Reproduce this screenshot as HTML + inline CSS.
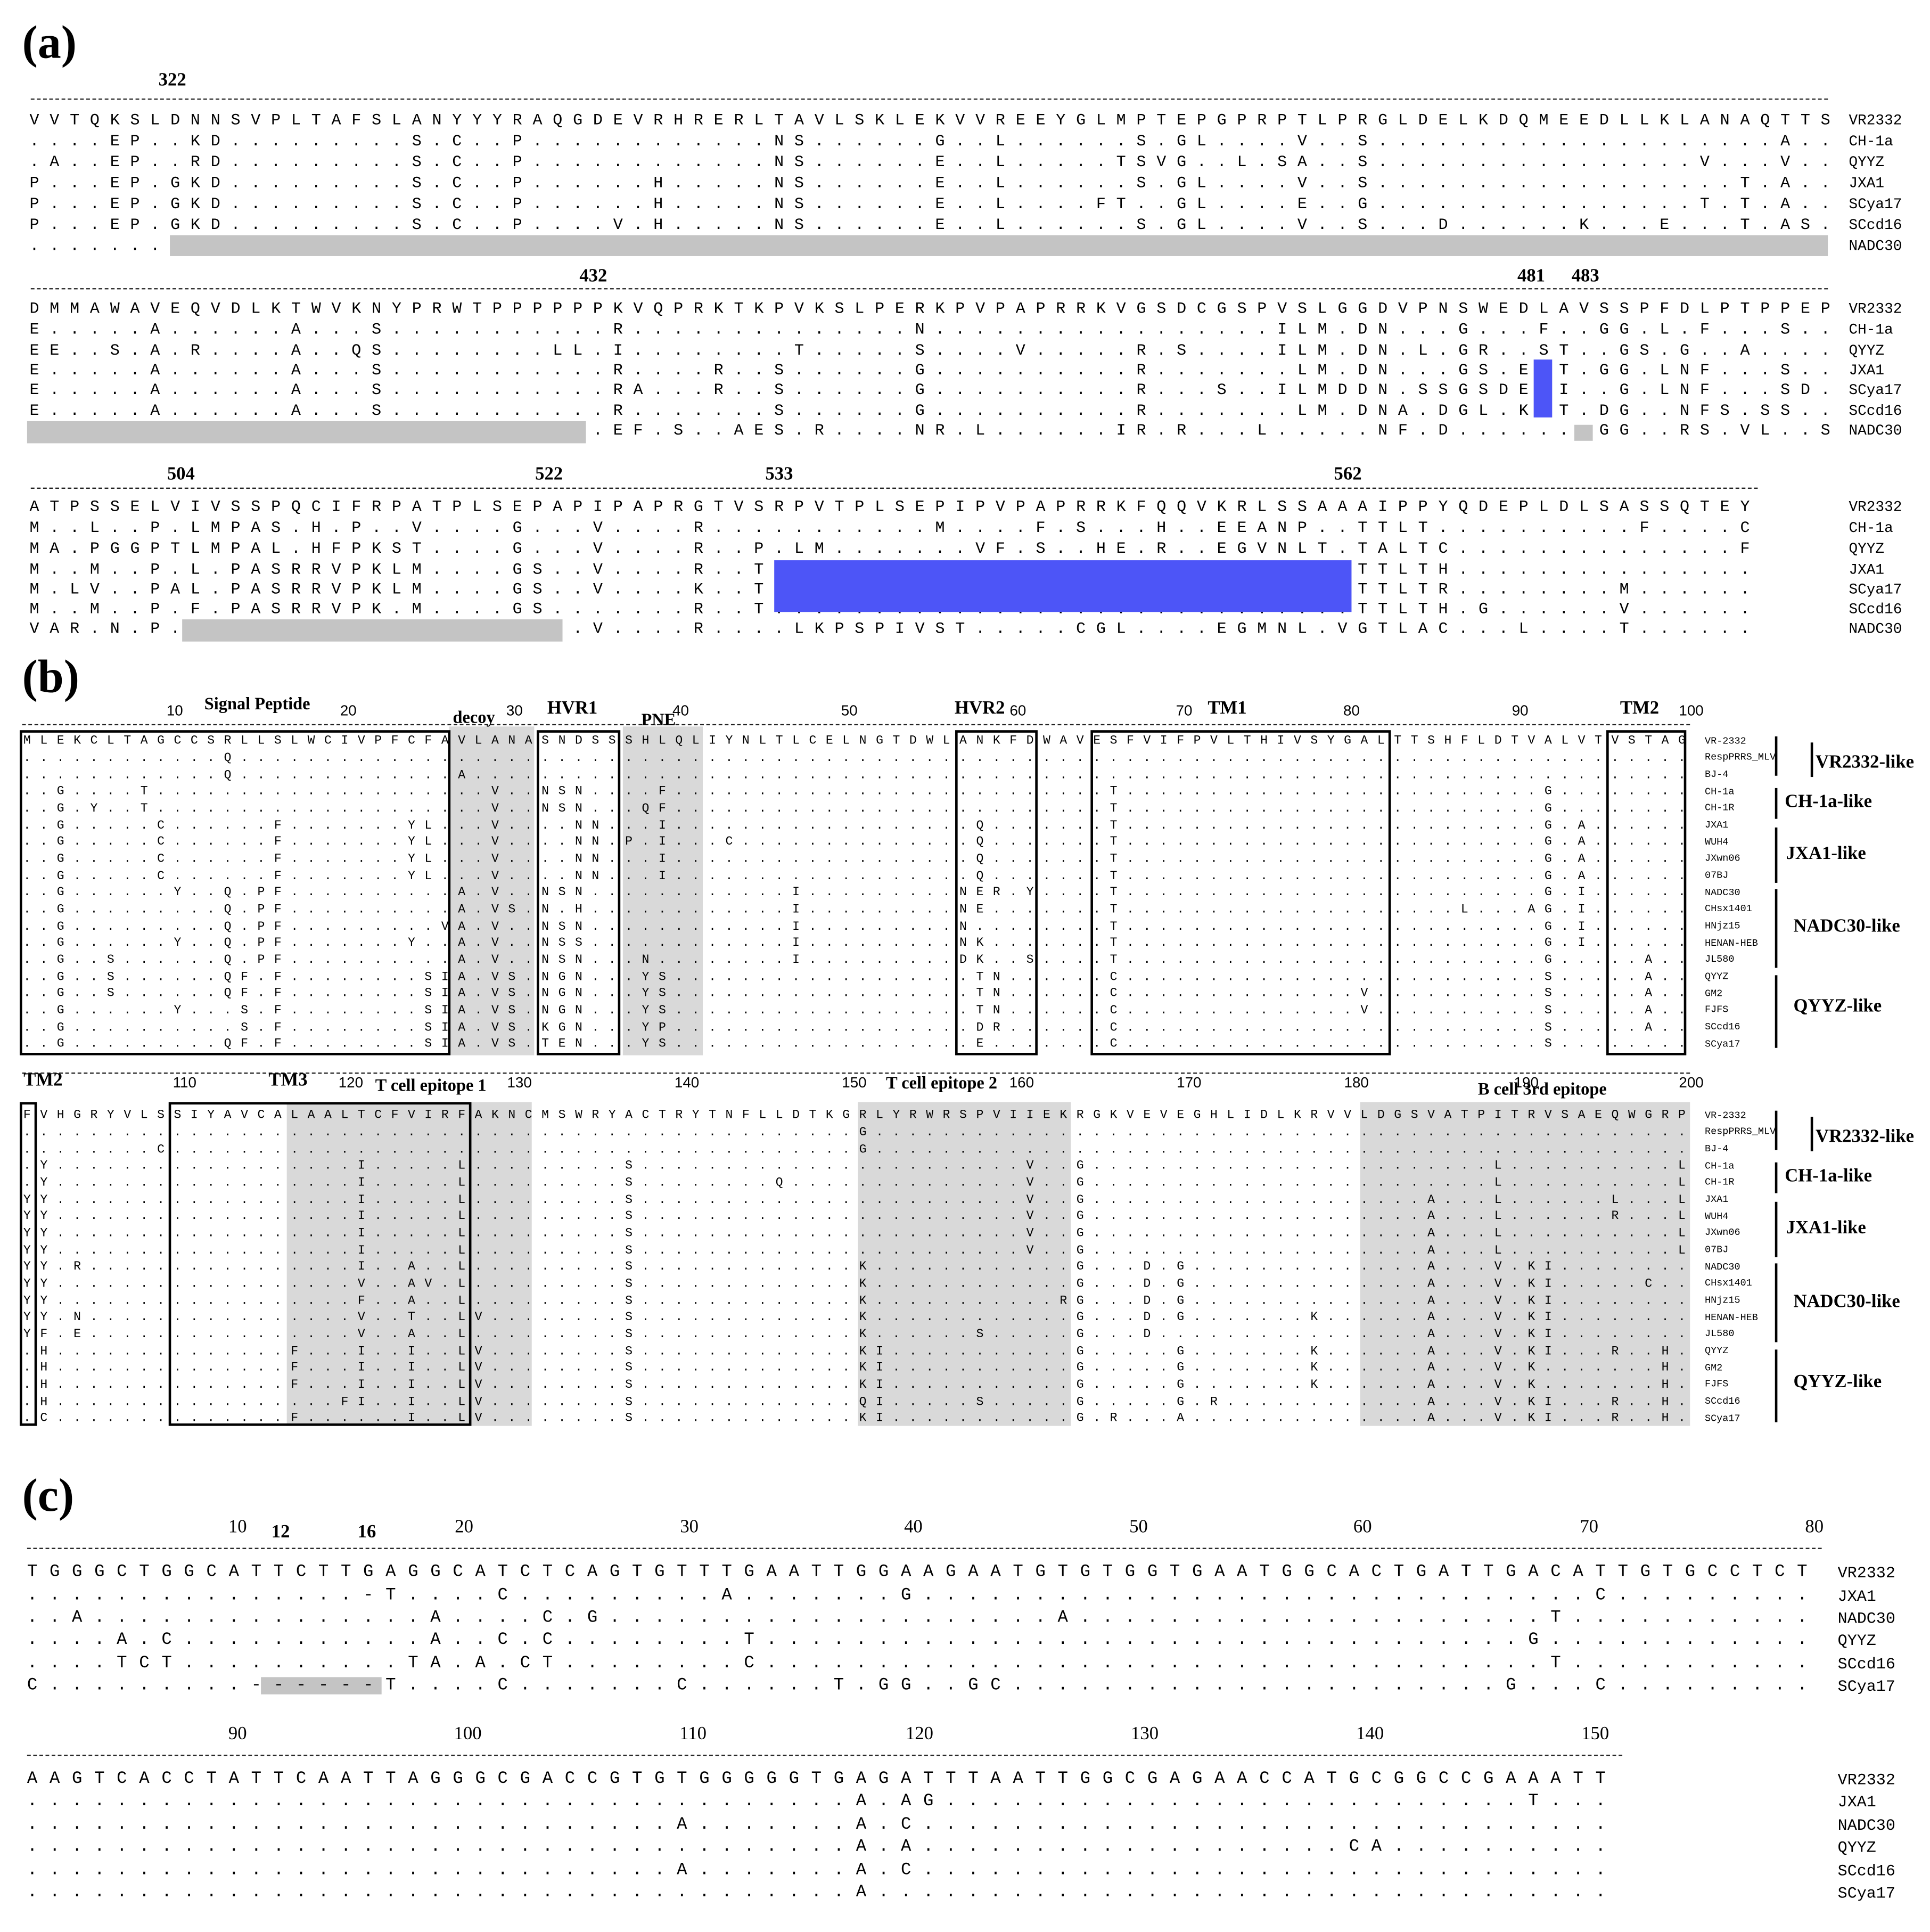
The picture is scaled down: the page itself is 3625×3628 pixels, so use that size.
<!DOCTYPE html>
<html><head><meta charset="utf-8"><style>
html,body{margin:0;padding:0;background:#fff}
body{width:3625px;height:3628px;overflow:hidden;position:relative}
#w{position:absolute;left:0;top:0;width:1568px;height:1569px;transform:scale(2.3119,2.3123);transform-origin:0 0}
.r{position:absolute;white-space:pre;font-family:"Liberation Mono",monospace;line-height:1;color:#000}
.r i{display:inline-block;font-style:normal;overflow:visible;vertical-align:top}
.a{font-size:13px;letter-spacing:8.55px}
.a i{width:163.5px}
.b{font-size:10px;letter-spacing:7.58px}
.b i{width:135.8px}
.c{font-size:14px;letter-spacing:9.8px}
.lab{position:absolute;white-space:pre;font-family:"Liberation Mono",monospace;line-height:1}
.la{font-size:12px}
.lb{font-size:8px}
.lc{font-size:13px}
.n{position:absolute;transform:translate(-50%,-50%);font:bold 15px "Liberation Serif",serif;white-space:pre}
.t{position:absolute;transform:translate(-50%,-50%);font:12px "Liberation Sans",sans-serif;white-space:pre}
.sec{position:absolute;font:bold 38px "Liberation Serif",serif;line-height:1}
.rul{position:absolute;height:0;border-top:1px dashed #222}
.g{position:absolute;background:#c4c4c4}
.gs{position:absolute;background:#d9d9d9}
.bl{position:absolute;background:#4d55f7}
.bx{position:absolute;border:2px solid #000;box-sizing:border-box}
.vl{position:absolute;width:2px;background:#000}
.gl{position:absolute;font:bold 15px "Liberation Serif",serif;transform:translateY(-50%);white-space:pre}
</style></head><body><div id="w">

<!-- (a) -->
<div class="sec" style="left:18px;top:16px">(a)</div>
<div class="rul" style="left:25px;top:80px;width:1460px"></div>
<div class="n" style="left:140px;top:66px">322</div>
<div class="r a" style="left:24px;top:91px"><i>VVTQKSLDNN</i><i>SVPLTAFSLA</i><i>NYYYRAQGDE</i><i>VRHRERLTAV</i><i>LSKLEKVVRE</i><i>EYGLMPTEPG</i><i>PRPTLPRGLD</i><i>ELKDQMEEDL</i><i>LKLANAQTTS</i></div>
<div class="r a" style="left:24px;top:108px"><i>....EP..KD</i><i>.........S</i><i>.C..P.....</i><i>.......NS.</i><i>.....G..L.</i><i>.....S.GL.</i><i>...V..S...</i><i>..........</i><i>.......A..</i></div>
<div class="r a" style="left:24px;top:125px"><i>.A..EP..RD</i><i>.........S</i><i>.C..P.....</i><i>.......NS.</i><i>.....E..L.</i><i>....TSVG..</i><i>L.SA..S...</i><i>..........</i><i>...V...V..</i></div>
<div class="r a" style="left:24px;top:142px"><i>P...EP.GKD</i><i>.........S</i><i>.C..P.....</i><i>.H.....NS.</i><i>.....E..L.</i><i>.....S.GL.</i><i>...V..S...</i><i>..........</i><i>.....T.A..</i></div>
<div class="r a" style="left:24px;top:159px"><i>P...EP.GKD</i><i>.........S</i><i>.C..P.....</i><i>.H.....NS.</i><i>.....E..L.</i><i>...FT..GL.</i><i>...E..G...</i><i>..........</i><i>...T.T.A..</i></div>
<div class="r a" style="left:24px;top:176px"><i>P...EP.GKD</i><i>.........S</i><i>.C..P....V</i><i>.H.....NS.</i><i>.....E..L.</i><i>.....S.GL.</i><i>...V..S...</i><i>D......K..</i><i>.E...T.AS.</i></div>
<div class="r a" style="left:24px;top:193px"><i>.......</i></div>
<div class="g" style="left:138px;top:191px;width:1347px;height:17px"></div>
<div class="lab la" style="left:1502px;top:92px">VR2332</div>
<div class="lab la" style="left:1502px;top:109px">CH-1a</div>
<div class="lab la" style="left:1502px;top:126px">QYYZ</div>
<div class="lab la" style="left:1502px;top:143px">JXA1</div>
<div class="lab la" style="left:1502px;top:160px">SCya17</div>
<div class="lab la" style="left:1502px;top:177px">SCcd16</div>
<div class="lab la" style="left:1502px;top:194px">NADC30</div>

<div class="rul" style="left:25px;top:234px;width:1460px"></div>
<div class="n" style="left:482px;top:225px">432</div>
<div class="n" style="left:1244px;top:225px">481</div>
<div class="n" style="left:1288px;top:225px">483</div>
<div class="r a" style="left:24px;top:244px"><i>DMMAWAVEQV</i><i>DLKTWVKNYP</i><i>RWTPPPPPPK</i><i>VQPRKTKPVK</i><i>SLPERKPVPA</i><i>PRRKVGSDCG</i><i>SPVSLGGDVP</i><i>NSWEDLAVSS</i><i>PFDLPTPPEP</i></div>
<div class="r a" style="left:24px;top:261px"><i>E.....A...</i><i>...A...S..</i><i>.........R</i><i>..........</i><i>....N.....</i><i>..........</i><i>..ILM.DN..</i><i>.G...F..GG</i><i>.L.F...S..</i></div>
<div class="r a" style="left:24px;top:278px"><i>EE..S.A.R.</i><i>...A..QS..</i><i>......LL.I</i><i>........T.</i><i>....S....V</i><i>.....R.S..</i><i>..ILM.DN.L</i><i>.GR..ST..G</i><i>S.G..A....</i></div>
<div class="r a" style="left:24px;top:294px"><i>E.....A...</i><i>...A...S..</i><i>.........R</i><i>....R..S..</i><i>....G.....</i><i>.....R....</i><i>...LM.DN..</i><i>.GS.E.T.GG</i><i>.LNF...S..</i></div>
<div class="r a" style="left:24px;top:310px"><i>E.....A...</i><i>...A...S..</i><i>.........R</i><i>A...R..S..</i><i>....G.....</i><i>.....R...S</i><i>..ILMDDN.S</i><i>SGSDE.I..G</i><i>.LNF...SD.</i></div>
<div class="r a" style="left:24px;top:327px"><i>E.....A...</i><i>...A...S..</i><i>.........R</i><i>.......S..</i><i>....G.....</i><i>.....R....</i><i>...LM.DNA.</i><i>DGL.K.T.DG</i><i>..NFS.SS..</i></div>
<div class="r a" style="left:24px;top:343px"><i>..........</i><i>..........</i><i>.........E</i><i>F.S..AES.R</i><i>....NR.L..</i><i>....IR.R..</i><i>.L.....NF.</i><i>D.......GG</i><i>..RS.VL..S</i></div>
<div class="g" style="left:22px;top:342px;width:454px;height:18px"></div>
<div class="g" style="left:1279px;top:345px;width:15px;height:13px"></div>
<div class="bl" style="left:1246px;top:292px;width:15px;height:47px"></div>
<div class="lab la" style="left:1502px;top:245px">VR2332</div>
<div class="lab la" style="left:1502px;top:262px">CH-1a</div>
<div class="lab la" style="left:1502px;top:279px">QYYZ</div>
<div class="lab la" style="left:1502px;top:295px">JXA1</div>
<div class="lab la" style="left:1502px;top:311px">SCya17</div>
<div class="lab la" style="left:1502px;top:328px">SCcd16</div>
<div class="lab la" style="left:1502px;top:344px">NADC30</div>

<div class="rul" style="left:25px;top:396px;width:1403px"></div>
<div class="n" style="left:147px;top:386px">504</div>
<div class="n" style="left:446px;top:386px">522</div>
<div class="n" style="left:633px;top:386px">533</div>
<div class="n" style="left:1095px;top:386px">562</div>
<div class="r a" style="left:24px;top:405px"><i>ATPSSELVIV</i><i>SSPQCIFRPA</i><i>TPLSEPAPIP</i><i>APRGTVSRPV</i><i>TPLSEPIPVP</i><i>APRRKFQQVK</i><i>RLSSAAAIPP</i><i>YQDEPLDLSA</i><i>SSQTEY</i></div>
<div class="r a" style="left:24px;top:422px"><i>M..L..P.LM</i><i>PAS.H.P..V</i><i>....G...V.</i><i>...R......</i><i>.....M....</i><i>F.S...H..E</i><i>EANP..TTLT</i><i>..........</i><i>F....C</i></div>
<div class="r a" style="left:24px;top:439px"><i>MA.PGGPTLM</i><i>PAL.HFPKST</i><i>....G...V.</i><i>...R..P.LM</i><i>.......VF.</i><i>S..HE.R..E</i><i>GVNLT.TALT</i><i>C.........</i><i>.....F</i></div>
<div class="r a" style="left:24px;top:456px"><i>M..M..P.L.</i><i>PASRRVPKLM</i><i>....GS..V.</i><i>...R..T...</i><i>..........</i><i>..........</i><i>......TTLT</i><i>H.........</i><i>......</i></div>
<div class="r a" style="left:24px;top:472px"><i>M.LV..PAL.</i><i>PASRRVPKLM</i><i>....GS..V.</i><i>...K..T...</i><i>..........</i><i>..........</i><i>......TTLT</i><i>R........M</i><i>......</i></div>
<div class="r a" style="left:24px;top:488px"><i>M..M..P.F.</i><i>PASRRVPK.M</i><i>....GS....</i><i>...R..T...</i><i>..........</i><i>..........</i><i>......TTLT</i><i>H.G......V</i><i>......</i></div>
<div class="r a" style="left:24px;top:504px"><i>VAR.N.P...</i><i>..........</i><i>........V.</i><i>...R....LK</i><i>PSPIVST...</i><i>..CGL....E</i><i>GMNL.VGTLA</i><i>C...L....T</i><i>......</i></div>
<div class="g" style="left:148px;top:503px;width:309px;height:18px"></div>
<div class="bl" style="left:629px;top:455px;width:469px;height:42px"></div>
<div class="lab la" style="left:1502px;top:406px">VR2332</div>
<div class="lab la" style="left:1502px;top:423px">CH-1a</div>
<div class="lab la" style="left:1502px;top:440px">QYYZ</div>
<div class="lab la" style="left:1502px;top:457px">JXA1</div>
<div class="lab la" style="left:1502px;top:473px">SCya17</div>
<div class="lab la" style="left:1502px;top:489px">SCcd16</div>
<div class="lab la" style="left:1502px;top:505px">NADC30</div>

<!-- (b) -->
<div class="sec" style="left:18px;top:531px">(b)</div>
<div class="gs" style="left:365px;top:590px;width:69px;height:267px"></div>
<div class="gs" style="left:506px;top:590px;width:65px;height:267px"></div>
<div class="rul" style="left:18px;top:588px;width:1355px"></div>
<div class="t" style="left:142px;top:577px">10</div><div class="t" style="left:283px;top:577px">20</div><div class="t" style="left:418px;top:577px">30</div><div class="t" style="left:553px;top:577px">40</div><div class="t" style="left:690px;top:577px">50</div><div class="t" style="left:827px;top:577px">60</div><div class="t" style="left:962px;top:577px">70</div><div class="t" style="left:1098px;top:577px">80</div><div class="t" style="left:1235px;top:577px">90</div><div class="t" style="left:1374px;top:577px">100</div>
<div class="n" style="left:209px;top:573px;font-size:14px">Signal Peptide</div>
<div class="n" style="left:385px;top:584px;font-size:14px">decoy</div>
<div class="n" style="left:465px;top:576px">HVR1</div>
<div class="n" style="left:535px;top:586px;font-size:14px">PNE</div>
<div class="n" style="left:796px;top:576px">HVR2</div>
<div class="n" style="left:997px;top:576px">TM1</div>
<div class="n" style="left:1332px;top:576px">TM2</div>

<div class="r b" style="left:19px;top:598px"><i>MLEKCLTAGC</i><i>CSRLLSLWCI</i><i>VPFCFAVLAN</i><i>ASNDSSSHLQ</i><i>LIYNLTLCEL</i><i>NGTDWLANKF</i><i>DWAVESFVIF</i><i>PVLTHIVSYG</i><i>ALTTSHFLDT</i><i>VALVTVSTAG</i></div>
<div class="r b" style="left:19px;top:612px"><i>..........</i><i>..Q.......</i><i>..........</i><i>..........</i><i>..........</i><i>..........</i><i>..........</i><i>..........</i><i>..........</i><i>..........</i></div>
<div class="r b" style="left:19px;top:626px"><i>..........</i><i>..Q.......</i><i>......A...</i><i>..........</i><i>..........</i><i>..........</i><i>..........</i><i>..........</i><i>..........</i><i>..........</i></div>
<div class="r b" style="left:19px;top:639px"><i>..G....T..</i><i>..........</i><i>........V.</i><i>.NSN....F.</i><i>..........</i><i>..........</i><i>.....T....</i><i>..........</i><i>..........</i><i>.G........</i></div>
<div class="r b" style="left:19px;top:653px"><i>..G.Y..T..</i><i>..........</i><i>........V.</i><i>.NSN...QF.</i><i>..........</i><i>..........</i><i>.....T....</i><i>..........</i><i>..........</i><i>.G........</i></div>
<div class="r b" style="left:19px;top:667px"><i>..G.....C.</i><i>.....F....</i><i>...YL...V.</i><i>...NN...I.</i><i>..........</i><i>.......Q..</i><i>.....T....</i><i>..........</i><i>..........</i><i>.G.A......</i></div>
<div class="r b" style="left:19px;top:680px"><i>..G.....C.</i><i>.....F....</i><i>...YL...V.</i><i>...NN.P.I.</i><i>..C.......</i><i>.......Q..</i><i>.....T....</i><i>..........</i><i>..........</i><i>.G.A......</i></div>
<div class="r b" style="left:19px;top:694px"><i>..G.....C.</i><i>.....F....</i><i>...YL...V.</i><i>...NN...I.</i><i>..........</i><i>.......Q..</i><i>.....T....</i><i>..........</i><i>..........</i><i>.G.A......</i></div>
<div class="r b" style="left:19px;top:708px"><i>..G.....C.</i><i>.....F....</i><i>...YL...V.</i><i>...NN...I.</i><i>..........</i><i>.......Q..</i><i>.....T....</i><i>..........</i><i>..........</i><i>.G.A......</i></div>
<div class="r b" style="left:19px;top:721px"><i>..G......Y</i><i>..Q.PF....</i><i>......A.V.</i><i>.NSN......</i><i>......I...</i><i>......NER.</i><i>Y....T....</i><i>..........</i><i>..........</i><i>.G.I......</i></div>
<div class="r b" style="left:19px;top:735px"><i>..G.......</i><i>..Q.PF....</i><i>......A.VS</i><i>.N.H......</i><i>......I...</i><i>......NE..</i><i>.....T....</i><i>..........</i><i>......L...</i><i>AG.I......</i></div>
<div class="r b" style="left:19px;top:749px"><i>..G.......</i><i>..Q.PF....</i><i>.....VA.V.</i><i>.NSN......</i><i>......I...</i><i>......N...</i><i>.....T....</i><i>..........</i><i>..........</i><i>.G.I......</i></div>
<div class="r b" style="left:19px;top:762px"><i>..G......Y</i><i>..Q.PF....</i><i>...Y..A.V.</i><i>.NSS......</i><i>......I...</i><i>......NK..</i><i>.....T....</i><i>..........</i><i>..........</i><i>.G.I......</i></div>
<div class="r b" style="left:19px;top:776px"><i>..G..S....</i><i>..Q.PF....</i><i>......A.V.</i><i>.NSN...N..</i><i>......I...</i><i>......DK..</i><i>S....T....</i><i>..........</i><i>..........</i><i>.G.....A..</i></div>
<div class="r b" style="left:19px;top:790px"><i>..G..S....</i><i>..QF.F....</i><i>....SIA.VS</i><i>.NGN...YS.</i><i>..........</i><i>.......TN.</i><i>.....C....</i><i>..........</i><i>..........</i><i>.S.....A..</i></div>
<div class="r b" style="left:19px;top:803px"><i>..G..S....</i><i>..QF.F....</i><i>....SIA.VS</i><i>.NGN...YS.</i><i>..........</i><i>.......TN.</i><i>.....C....</i><i>..........</i><i>V.........</i><i>.S.....A..</i></div>
<div class="r b" style="left:19px;top:817px"><i>..G......Y</i><i>...S.F....</i><i>....SIA.VS</i><i>.NGN...YS.</i><i>..........</i><i>.......TN.</i><i>.....C....</i><i>..........</i><i>V.........</i><i>.S.....A..</i></div>
<div class="r b" style="left:19px;top:831px"><i>..G.......</i><i>...S.F....</i><i>....SIA.VS</i><i>.KGN...YP.</i><i>..........</i><i>.......DR.</i><i>.....C....</i><i>..........</i><i>..........</i><i>.S.....A..</i></div>
<div class="r b" style="left:19px;top:844px"><i>..G.......</i><i>..QF.F....</i><i>....SIA.VS</i><i>.TEN...YS.</i><i>..........</i><i>.......E..</i><i>.....C....</i><i>..........</i><i>..........</i><i>.S........</i></div>
<div class="bx" style="left:16px;top:593px;width:350px;height:264px"></div>
<div class="bx" style="left:436px;top:593px;width:68px;height:264px"></div>
<div class="bx" style="left:776px;top:593px;width:67px;height:264px"></div>
<div class="bx" style="left:886px;top:593px;width:244px;height:264px"></div>
<div class="bx" style="left:1305px;top:593px;width:65px;height:264px"></div>

<div class="lab lb" style="left:1385px;top:599px">VR-2332</div>
<div class="lab lb" style="left:1385px;top:612px">RespPRRS_MLV</div>
<div class="lab lb" style="left:1385px;top:626px">BJ-4</div>
<div class="lab lb" style="left:1385px;top:640px">CH-1a</div>
<div class="lab lb" style="left:1385px;top:653px">CH-1R</div>
<div class="lab lb" style="left:1385px;top:667px">JXA1</div>
<div class="lab lb" style="left:1385px;top:681px">WUH4</div>
<div class="lab lb" style="left:1385px;top:694px">JXwn06</div>
<div class="lab lb" style="left:1385px;top:708px">07BJ</div>
<div class="lab lb" style="left:1385px;top:722px">NADC30</div>
<div class="lab lb" style="left:1385px;top:735px">CHsx1401</div>
<div class="lab lb" style="left:1385px;top:749px">HNjz15</div>
<div class="lab lb" style="left:1385px;top:763px">HENAN-HEB</div>
<div class="lab lb" style="left:1385px;top:776px">JL580</div>
<div class="lab lb" style="left:1385px;top:790px">QYYZ</div>
<div class="lab lb" style="left:1385px;top:804px">GM2</div>
<div class="lab lb" style="left:1385px;top:817px">FJFS</div>
<div class="lab lb" style="left:1385px;top:831px">SCcd16</div>
<div class="lab lb" style="left:1385px;top:845px">SCya17</div>
<div class="vl" style="left:1442px;top:598px;height:32px"></div><div class="vl" style="left:1471px;top:603px;height:28px"></div>
<div class="vl" style="left:1442px;top:640px;height:25px"></div>
<div class="vl" style="left:1442px;top:672px;height:45px"></div>
<div class="vl" style="left:1442px;top:722px;height:64px"></div>
<div class="vl" style="left:1442px;top:792px;height:59px"></div>
<div class="gl" style="left:1475px;top:620px">VR2332-like</div>
<div class="gl" style="left:1450px;top:652px">CH-1a-like</div>
<div class="gl" style="left:1451px;top:694px">JXA1-like</div>
<div class="gl" style="left:1457px;top:753px">NADC30-like</div>
<div class="gl" style="left:1457px;top:818px">QYYZ-like</div>

<!-- (b) lower -->
<div class="gs" style="left:233px;top:895px;width:199px;height:263px"></div>
<div class="gs" style="left:697px;top:895px;width:173px;height:263px"></div>
<div class="gs" style="left:1105px;top:895px;width:268px;height:263px"></div>
<div class="rul" style="left:18px;top:871px;width:1355px"></div>
<div class="n" style="left:35px;top:878px">TM2</div>
<div class="t" style="left:150px;top:879px">110</div>
<div class="n" style="left:234px;top:878px">TM3</div>
<div class="t" style="left:285px;top:879px">120</div>
<div class="n" style="left:350px;top:883px;font-size:14px">T cell epitope 1</div>
<div class="t" style="left:422px;top:879px">130</div>
<div class="t" style="left:558px;top:879px">140</div>
<div class="t" style="left:694px;top:879px">150</div>
<div class="n" style="left:765px;top:881px;font-size:14px">T cell epitope 2</div>
<div class="t" style="left:830px;top:879px">160</div>
<div class="t" style="left:966px;top:879px">170</div>
<div class="t" style="left:1102px;top:879px">180</div>
<div class="n" style="left:1253px;top:886px;font-size:14px">B cell 3rd epitope</div>
<div class="t" style="left:1240px;top:879px">190</div>
<div class="t" style="left:1374px;top:879px">200</div>

<div class="r b" style="left:19px;top:902px"><i>FVHGRYVLSS</i><i>IYAVCALAAL</i><i>TCFVIRFAKN</i><i>CMSWRYACTR</i><i>YTNFLLDTKG</i><i>RLYRWRSPVI</i><i>IEKRGKVEVE</i><i>GHLIDLKRVV</i><i>LDGSVATPIT</i><i>RVSAEQWGRP</i></div>
<div class="r b" style="left:19px;top:916px"><i>..........</i><i>..........</i><i>..........</i><i>..........</i><i>..........</i><i>G.........</i><i>..........</i><i>..........</i><i>..........</i><i>..........</i></div>
<div class="r b" style="left:19px;top:930px"><i>........C.</i><i>..........</i><i>..........</i><i>..........</i><i>..........</i><i>G.........</i><i>..........</i><i>..........</i><i>..........</i><i>..........</i></div>
<div class="r b" style="left:19px;top:943px"><i>.Y........</i><i>..........</i><i>I.....L...</i><i>......S...</i><i>..........</i><i>..........</i><i>V..G......</i><i>..........</i><i>........L.</i><i>.........L</i></div>
<div class="r b" style="left:19px;top:957px"><i>.Y........</i><i>..........</i><i>I.....L...</i><i>......S...</i><i>.....Q....</i><i>..........</i><i>V..G......</i><i>..........</i><i>........L.</i><i>.........L</i></div>
<div class="r b" style="left:19px;top:971px"><i>YY........</i><i>..........</i><i>I.....L...</i><i>......S...</i><i>..........</i><i>..........</i><i>V..G......</i><i>..........</i><i>....A...L.</i><i>.....L...L</i></div>
<div class="r b" style="left:19px;top:984px"><i>YY........</i><i>..........</i><i>I.....L...</i><i>......S...</i><i>..........</i><i>..........</i><i>V..G......</i><i>..........</i><i>....A...L.</i><i>.....R...L</i></div>
<div class="r b" style="left:19px;top:998px"><i>YY........</i><i>..........</i><i>I.....L...</i><i>......S...</i><i>..........</i><i>..........</i><i>V..G......</i><i>..........</i><i>....A...L.</i><i>.........L</i></div>
<div class="r b" style="left:19px;top:1012px"><i>YY........</i><i>..........</i><i>I.....L...</i><i>......S...</i><i>..........</i><i>..........</i><i>V..G......</i><i>..........</i><i>....A...L.</i><i>.........L</i></div>
<div class="r b" style="left:19px;top:1025px"><i>YY.R......</i><i>..........</i><i>I..A..L...</i><i>......S...</i><i>..........</i><i>K.........</i><i>...G...D.G</i><i>..........</i><i>....A...V.</i><i>KI........</i></div>
<div class="r b" style="left:19px;top:1039px"><i>YY........</i><i>..........</i><i>V..AV.L...</i><i>......S...</i><i>..........</i><i>K.........</i><i>...G...D.G</i><i>..........</i><i>....A...V.</i><i>KI.....C..</i></div>
<div class="r b" style="left:19px;top:1053px"><i>YY........</i><i>..........</i><i>F..A..L...</i><i>......S...</i><i>..........</i><i>K.........</i><i>..RG...D.G</i><i>..........</i><i>....A...V.</i><i>KI........</i></div>
<div class="r b" style="left:19px;top:1066px"><i>YY.N......</i><i>..........</i><i>V..T..LV..</i><i>......S...</i><i>..........</i><i>K.........</i><i>...G...D.G</i><i>.......K..</i><i>....A...V.</i><i>KI........</i></div>
<div class="r b" style="left:19px;top:1080px"><i>YF.E......</i><i>..........</i><i>V..A..L...</i><i>......S...</i><i>..........</i><i>K......S..</i><i>...G...D..</i><i>..........</i><i>....A...V.</i><i>KI........</i></div>
<div class="r b" style="left:19px;top:1094px"><i>.H........</i><i>......F...</i><i>I..I..LV..</i><i>......S...</i><i>..........</i><i>KI........</i><i>...G.....G</i><i>.......K..</i><i>....A...V.</i><i>KI...R..H.</i></div>
<div class="r b" style="left:19px;top:1107px"><i>.H........</i><i>......F...</i><i>I..I..LV..</i><i>......S...</i><i>..........</i><i>KI........</i><i>...G.....G</i><i>.......K..</i><i>....A...V.</i><i>K.......H.</i></div>
<div class="r b" style="left:19px;top:1121px"><i>.H........</i><i>......F...</i><i>I..I..LV..</i><i>......S...</i><i>..........</i><i>KI........</i><i>...G.....G</i><i>.......K..</i><i>....A...V.</i><i>K.......H.</i></div>
<div class="r b" style="left:19px;top:1135px"><i>.H........</i><i>.........F</i><i>I..I..LV..</i><i>......S...</i><i>..........</i><i>QI.....S..</i><i>...G.....G</i><i>.R........</i><i>....A...V.</i><i>KI...R..H.</i></div>
<div class="r b" style="left:19px;top:1148px"><i>.C........</i><i>......F...</i><i>...I..LV..</i><i>......S...</i><i>..........</i><i>KI........</i><i>...G.R...A</i><i>..........</i><i>....A...V.</i><i>KI...R..H.</i></div>
<div class="bx" style="left:16px;top:895px;width:14px;height:263px"></div>
<div class="bx" style="left:137px;top:895px;width:246px;height:263px"></div>

<div class="lab lb" style="left:1385px;top:903px">VR-2332</div>
<div class="lab lb" style="left:1385px;top:916px">RespPRRS_MLV</div>
<div class="lab lb" style="left:1385px;top:930px">BJ-4</div>
<div class="lab lb" style="left:1385px;top:944px">CH-1a</div>
<div class="lab lb" style="left:1385px;top:957px">CH-1R</div>
<div class="lab lb" style="left:1385px;top:971px">JXA1</div>
<div class="lab lb" style="left:1385px;top:985px">WUH4</div>
<div class="lab lb" style="left:1385px;top:998px">JXwn06</div>
<div class="lab lb" style="left:1385px;top:1012px">07BJ</div>
<div class="lab lb" style="left:1385px;top:1026px">NADC30</div>
<div class="lab lb" style="left:1385px;top:1039px">CHsx1401</div>
<div class="lab lb" style="left:1385px;top:1053px">HNjz15</div>
<div class="lab lb" style="left:1385px;top:1067px">HENAN-HEB</div>
<div class="lab lb" style="left:1385px;top:1080px">JL580</div>
<div class="lab lb" style="left:1385px;top:1094px">QYYZ</div>
<div class="lab lb" style="left:1385px;top:1108px">GM2</div>
<div class="lab lb" style="left:1385px;top:1121px">FJFS</div>
<div class="lab lb" style="left:1385px;top:1135px">SCcd16</div>
<div class="lab lb" style="left:1385px;top:1149px">SCya17</div>
<div class="vl" style="left:1442px;top:902px;height:32px"></div><div class="vl" style="left:1471px;top:907px;height:28px"></div>
<div class="vl" style="left:1442px;top:944px;height:25px"></div>
<div class="vl" style="left:1442px;top:976px;height:45px"></div>
<div class="vl" style="left:1442px;top:1026px;height:64px"></div>
<div class="vl" style="left:1442px;top:1096px;height:59px"></div>
<div class="gl" style="left:1475px;top:924px">VR2332-like</div>
<div class="gl" style="left:1450px;top:956px">CH-1a-like</div>
<div class="gl" style="left:1451px;top:998px">JXA1-like</div>
<div class="gl" style="left:1457px;top:1058px">NADC30-like</div>
<div class="gl" style="left:1457px;top:1123px">QYYZ-like</div>

<!-- (c) -->
<div class="sec" style="left:18px;top:1196px">(c)</div>
<div class="rul" style="left:22px;top:1257px;width:1458px"></div>
<div class="n" style="left:193px;top:1241px;font-weight:normal">10</div>
<div class="n" style="left:228px;top:1245px">12</div>
<div class="n" style="left:298px;top:1245px">16</div>
<div class="n" style="left:377px;top:1241px;font-weight:normal">20</div>
<div class="n" style="left:560px;top:1241px;font-weight:normal">30</div>
<div class="n" style="left:742px;top:1241px;font-weight:normal">40</div>
<div class="n" style="left:925px;top:1241px;font-weight:normal">50</div>
<div class="n" style="left:1107px;top:1241px;font-weight:normal">60</div>
<div class="n" style="left:1291px;top:1241px;font-weight:normal">70</div>
<div class="n" style="left:1474px;top:1241px;font-weight:normal">80</div>
<div class="g" style="left:212px;top:1362px;width:98px;height:14px"></div>
<div class="r c" style="left:22px;top:1270px">TGGGCTGGCATTCTTGAGGCATCTCAGTGTTTGAATTGGAAGAATGTGTGGTGAATGGCACTGATTGACATTGTGCCTCT</div>
<div class="r c" style="left:22px;top:1289px">...............-T....C.........A.......G..............................C.........</div>
<div class="r c" style="left:22px;top:1307px">..A...............A....C.G....................A.....................T...........</div>
<div class="r c" style="left:22px;top:1325px">....A.C...........A..C.C........T..................................G............</div>
<div class="r c" style="left:22px;top:1344px">....TCT..........TA.A.CT........C...................................T...........</div>
<div class="r c" style="left:22px;top:1362px">C.........------T....C.......C......T.GG..GC......................G...C.........</div>
<div class="lab lc" style="left:1493px;top:1271px">VR2332</div>
<div class="lab lc" style="left:1493px;top:1290px">JXA1</div>
<div class="lab lc" style="left:1493px;top:1308px">NADC30</div>
<div class="lab lc" style="left:1493px;top:1326px">QYYZ</div>
<div class="lab lc" style="left:1493px;top:1345px">SCcd16</div>
<div class="lab lc" style="left:1493px;top:1363px">SCya17</div>

<div class="rul" style="left:22px;top:1425px;width:1296px"></div>
<div class="n" style="left:193px;top:1409px;font-weight:normal">90</div>
<div class="n" style="left:380px;top:1409px;font-weight:normal">100</div>
<div class="n" style="left:563px;top:1409px;font-weight:normal">110</div>
<div class="n" style="left:747px;top:1409px;font-weight:normal">120</div>
<div class="n" style="left:930px;top:1409px;font-weight:normal">130</div>
<div class="n" style="left:1113px;top:1409px;font-weight:normal">140</div>
<div class="n" style="left:1296px;top:1409px;font-weight:normal">150</div>
<div class="r c" style="left:22px;top:1438px">AAGTCACCTATTCAATTAGGGCGACCGTGTGGGGGTGAGATTTAATTGGCGAGAACCATGCGGCCGAAATT</div>
<div class="r c" style="left:22px;top:1456px">.....................................A.AG..........................T...</div>
<div class="r c" style="left:22px;top:1475px">.............................A.......A.C...............................</div>
<div class="r c" style="left:22px;top:1493px">.....................................A.A...................CA..........</div>
<div class="r c" style="left:22px;top:1512px">.............................A.......A.C...............................</div>
<div class="r c" style="left:22px;top:1530px">.....................................A.................................</div>
<div class="lab lc" style="left:1493px;top:1439px">VR2332</div>
<div class="lab lc" style="left:1493px;top:1457px">JXA1</div>
<div class="lab lc" style="left:1493px;top:1476px">NADC30</div>
<div class="lab lc" style="left:1493px;top:1494px">QYYZ</div>
<div class="lab lc" style="left:1493px;top:1513px">SCcd16</div>
<div class="lab lc" style="left:1493px;top:1531px">SCya17</div>

</div></body></html>
